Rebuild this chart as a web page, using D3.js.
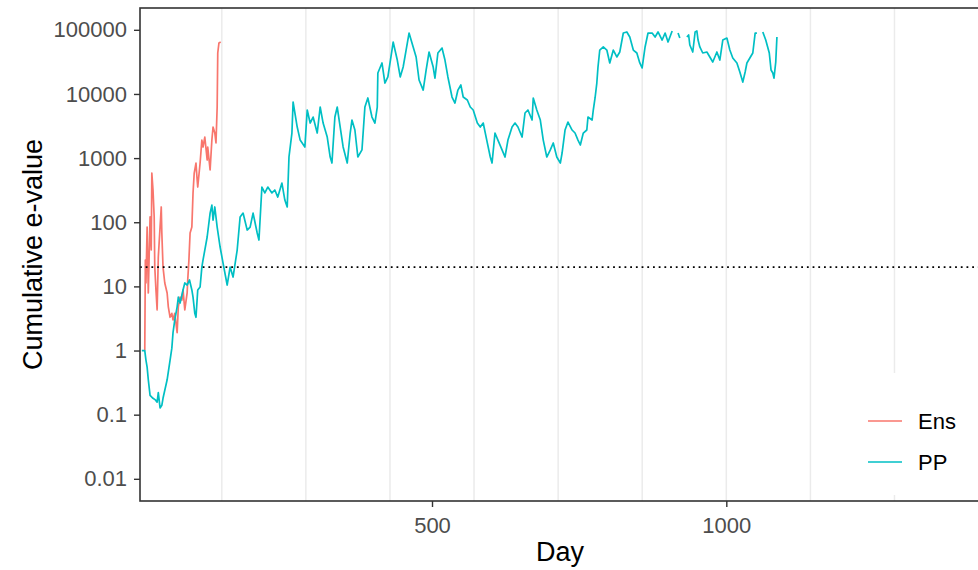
<!DOCTYPE html>
<html>
<head>
<meta charset="utf-8">
<script src="https://cdn.jsdelivr.net/npm/d3@7"></script>
<style>
  html, body { margin: 0; padding: 0; background: #ffffff; }
  svg { display: block; font-family: "Liberation Sans", Arial, sans-serif; }
</style>
</head>
<body>
<svg id="chart" width="978" height="570"></svg>
<script>
// Cumulative e-value by day for the two forecasters (log scale)
const ensDays = [12, 13, 14, 16, 18, 21, 23, 24, 26, 28, 29, 31, 33, 35, 38, 40, 41, 43, 46, 50,
  52, 55, 58, 60, 63, 67, 69, 72, 75, 77, 80, 84, 85, 87, 89, 92, 94, 96, 99, 101,
  102, 106, 109, 111, 114, 118, 119, 123, 126, 128, 131, 133, 135, 136, 138, 141];
const ensValues = [1.0, 25.8, 11.3, 84, 7.9, 121, 36.9, 585, 318, 121, 20, 8.8, 4.3, 28.7, 84, 173, 67.9, 20, 11.3, 7.9,
  4.8, 3.3, 3.8, 3.0, 3.8, 1.9, 4.8, 6.8, 6.1, 8.8, 4.3, 7.9, 12.6, 25.8, 67.9, 84, 286, 585, 838, 455,
  354, 838, 1910, 1490, 2130, 933, 1490, 652, 1910, 3050, 2460, 1720, 6260, 43500, 62300, 64500];

const ppDays = [7, 12, 14, 16, 18, 21, 26, 30, 33, 35, 38, 41, 43, 50, 55, 58, 60, 63, 67, 69,
  72, 77, 80, 84, 88, 92, 94, 97, 99, 102, 106, 109, 111, 118, 123, 126, 128, 131, 135, 140,
  145, 152, 157, 162, 169, 174, 179, 186, 191, 196, 203, 206, 211, 216, 221, 228, 233, 238, 245, 250,
  254, 257, 262, 264, 271, 276, 284, 288, 293, 298, 305, 310, 315, 322, 327, 330, 335, 339, 344, 349,
  356, 361, 364, 369, 374, 381, 386, 391, 398, 403, 407, 408, 415, 420, 425, 432, 434, 441, 446, 451,
  456, 461, 468, 473, 478, 485, 490, 495, 502, 505, 510, 517, 522, 527, 534, 539, 544, 549, 553, 560,
  565, 570, 577, 582, 587, 593, 599, 602, 607, 612, 619, 624, 629, 636, 641, 646, 653, 658, 663, 670,
  672, 678, 684, 689, 695, 701, 706, 712, 718, 721, 726, 731, 738, 743, 748, 752, 757, 763, 765, 772,
  774, 777, 780, 782, 785, 791, 797, 802, 808, 814, 819, 825, 831, 836, 842, 848, 853, 857, 862, 867,
  874, 879, 884, 891, 896, 901, 908, 913, 918, 921, 925, 930, 933, 936, 938, 943, 947, 950, 952, 955,
  960, 967, 972, 977, 984, 989, 994, 1001, 1006, 1011, 1018, 1023, 1028, 1032, 1035, 1040, 1045, 1049, 1052, 1057,
  1062, 1067, 1073, 1076, 1079, 1081, 1084, 1086];
const ppValues = [1.0, 1.0, 0.71, 0.55, 0.35, 0.20, 0.18, 0.17, 0.157, 0.22, 0.127, 0.14, 0.18, 0.35, 0.71, 1.09, 1.9, 3.0, 4.8, 6.8,
  5.5, 8.8, 11.3, 10.5, 12.6, 8.8, 6.8, 3.8, 3.3, 8.8, 9.8, 20, 25.8, 58.9, 139, 185, 108, 173, 84, 41.1,
  23.1, 10.5, 20, 14, 36.9, 121, 139, 75.6, 84, 139, 67.9, 52.8, 354, 286, 354, 286, 318, 247, 408, 222,
  173, 1040, 2460, 7490, 3050, 1910, 1490, 5620, 3520, 4370, 2460, 6260, 3520, 2130, 1040, 838, 4370, 6260, 3050, 1490,
  838, 2460, 3920, 2740, 1040, 1340, 6260, 8650, 4370, 3520, 6260, 21200, 30400, 14800, 18400, 48400, 64500, 33800, 18400, 26300,
  48400, 89100, 54000, 37700, 16500, 11500, 23600, 45100, 26300, 17700, 43500, 52000, 33800, 18400, 8960, 7220, 11500, 13800, 8960, 8050,
  6260, 5620, 3520, 3050, 3520, 1910, 1040, 838, 2460, 1910, 1340, 1040, 1910, 3050, 3520, 3050, 2130, 5050, 5620, 3920,
  8650, 5620, 3920, 1910, 1040, 1340, 1720, 1040, 838, 1200, 2740, 3650, 2740, 2460, 1910, 1600, 2460, 2740, 4370, 3920,
  5620, 8650, 14800, 26300, 48400, 54000, 48400, 30400, 48400, 37700, 45100, 89100, 92500, 77200, 48400, 43500, 30400, 25400, 54000, 89100,
  89100, 77200, 92500, 69300, 89100, 64500, 95800, 120000, 89100, 74500, 130000, 110000, 77200, 83000, 58000, 45100, 92500, 95800, 69300, 54000,
  43500, 45100, 37700, 31500, 45100, 33800, 69300, 74500, 48400, 36300, 30400, 22000, 15300, 22000, 30400, 36300, 43500, 89100, 89100, 120000,
  92500, 69300, 43500, 23600, 21200, 17700, 31500, 77200];

const seriesNames = ["Ens", "PP"];
const seriesColors = ["#F8766D", "#00BFC4"];

const yTickValues = [100000, 10000, 1000, 100, 10, 1, 0.1, 0.01];
const yTickLabels = ["100000", "10000", "1000", "100", "10", "1", "0.1", "0.01"];
const xTickValues = [500, 1000];
const xTickLabels = ["500", "1000"];
const gridDays = [142.9, 285.7, 428.6, 571.4, 714.3, 857.1, 1000, 1142.9, 1285.7];
const threshold = 20;      // 1 / alpha, alpha = 0.05
const valueCap = 100000;   // upper limit of the y scale; values above are dropped

// ---- layout ----
const svg = d3.select("#chart");
const panel = { left: 140, top: 8, right: 980, bottom: 501 };

const x = d3.scaleLinear().domain([3.9, 1431]).range([panel.left, panel.right]);
const y = d3.scaleLog().domain([0.00451, 218800]).range([panel.bottom, panel.top]);

const clipId = "panel-clip";
svg.append("defs").append("clipPath").attr("id", clipId)
  .append("rect")
  .attr("x", panel.left).attr("y", panel.top)
  .attr("width", panel.right - panel.left).attr("height", panel.bottom - panel.top);

const plot = svg.append("g").attr("clip-path", `url(#${clipId})`);

// vertical grid lines
plot.selectAll("line.grid")
  .data(gridDays)
  .join("line")
  .attr("class", "grid")
  .attr("x1", d => x(d)).attr("x2", d => x(d))
  .attr("y1", panel.top).attr("y2", panel.bottom)
  .attr("stroke", "#EBEBEB")
  .attr("stroke-width", 1.5);

// series lines
const series = [
  { name: seriesNames[0], color: seriesColors[0], days: ensDays, values: ensValues },
  { name: seriesNames[1], color: seriesColors[1], days: ppDays, values: ppValues }
];

const line = d3.line()
  .defined(d => d.v <= valueCap)
  .x(d => x(d.day))
  .y(d => y(d.v));

series.forEach(s => {
  const pts = s.days.map((day, i) => ({ day, v: s.values[i] }));
  plot.append("path")
    .datum(pts)
    .attr("fill", "none")
    .attr("stroke", s.color)
    .attr("stroke-width", 1.7)
    .attr("stroke-linejoin", "round")
    .attr("d", line);
});

// rejection threshold
plot.append("line")
  .attr("x1", panel.left).attr("x2", panel.right)
  .attr("y1", y(threshold)).attr("y2", y(threshold))
  .attr("stroke", "#000000")
  .attr("stroke-width", 1.8)
  .attr("stroke-dasharray", "1.8 3.9");

// legend
const legend = svg.append("g");
legend.append("rect")
  .attr("x", 852).attr("y", 373).attr("width", 130).attr("height", 122)
  .attr("fill", "#ffffff");
const legendRowsY = [421, 462];
series.forEach((s, i) => {
  legend.append("line")
    .attr("x1", 868).attr("x2", 902)
    .attr("y1", legendRowsY[i]).attr("y2", legendRowsY[i])
    .attr("stroke", s.color).attr("stroke-width", 1.6);
  legend.append("text")
    .attr("x", 918).attr("y", legendRowsY[i])
    .attr("dy", "0.35em")
    .attr("font-size", 22)
    .attr("fill", "#000000")
    .text(s.name);
});

// panel border
svg.append("rect")
  .attr("x", panel.left).attr("y", panel.top)
  .attr("width", panel.right - panel.left).attr("height", panel.bottom - panel.top)
  .attr("fill", "none")
  .attr("stroke", "#333333")
  .attr("stroke-width", 1.6);

// axes
const yAxis = d3.axisLeft(y)
  .tickValues(yTickValues)
  .tickFormat((d, i) => yTickLabels[i])
  .tickSize(6)
  .tickPadding(7);
const gy = svg.append("g").attr("transform", `translate(${panel.left},0)`).call(yAxis);

const xAxis = d3.axisBottom(x)
  .tickValues(xTickValues)
  .tickFormat((d, i) => xTickLabels[i])
  .tickSize(6)
  .tickPadding(10);
const gx = svg.append("g").attr("transform", `translate(0,${panel.bottom})`).call(xAxis);

[gx, gy].forEach(g => {
  g.select(".domain").remove();
  g.selectAll(".tick line").attr("stroke", "#333333").attr("stroke-width", 1.4);
  g.selectAll(".tick text")
    .attr("fill", "#4D4D4D")
    .attr("font-size", 22)
    .attr("font-family", "Liberation Sans, Arial, sans-serif");
});

// axis titles
svg.append("text")
  .attr("x", (panel.left + panel.right) / 2)
  .attr("y", 561)
  .attr("text-anchor", "middle")
  .attr("font-size", 27)
  .attr("fill", "#000000")
  .text("Day");

svg.append("text")
  .attr("transform", `translate(42,${(panel.top + panel.bottom) / 2}) rotate(-90)`)
  .attr("text-anchor", "middle")
  .attr("font-size", 27)
  .attr("fill", "#000000")
  .text("Cumulative e-value");
</script>
</body>
</html>
